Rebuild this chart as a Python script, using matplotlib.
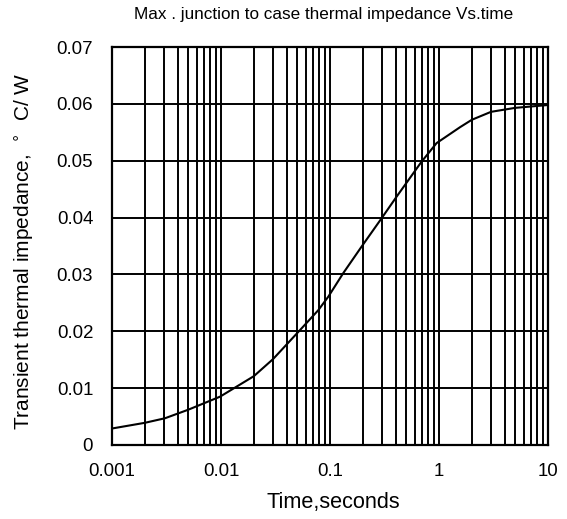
import matplotlib
matplotlib.use("Agg")
import matplotlib.pyplot as plt
from matplotlib.ticker import LogLocator, FixedLocator, FixedFormatter

# curve
time_s = [0.001, 0.002, 0.00306, 0.005, 0.0098, 0.02, 0.03, 0.041, 0.053,
          0.078, 0.0966, 0.132, 0.195, 0.298, 0.409, 0.69, 0.95, 1.56,
          2, 3, 5, 10]
zth = [0.0029, 0.0039, 0.0047, 0.0062, 0.0085, 0.0121, 0.0151, 0.0179, 0.0202,
       0.0237, 0.0261, 0.0302, 0.0349, 0.0399, 0.0437, 0.0498, 0.0531, 0.0559,
       0.0572, 0.0586, 0.0593, 0.0598]

x_ticks = [0.001, 0.01, 0.1, 1, 10]
x_labels = ["0.001", "0.01", "0.1", "1", "10"]
y_ticks = [0, 0.01, 0.02, 0.03, 0.04, 0.05, 0.06, 0.07]
y_labels = ["0", "0.01", "0.02", "0.03", "0.04", "0.05", "0.06", "0.07"]

plt.rcParams["font.family"] = ["Liberation Sans", "DejaVu Sans"]

fig = plt.figure(figsize=(5.67, 5.19), dpi=100)
ax = fig.add_axes([0.1975, 0.1426, 0.769, 0.7668])

ax.plot(time_s, zth, color="black", lw=1.5)
ax.set_xscale("log")
ax.set_xlim(0.001, 10)
ax.set_ylim(0, 0.07)

ax.xaxis.set_major_locator(FixedLocator(x_ticks))
ax.xaxis.set_major_formatter(FixedFormatter(x_labels))
ax.xaxis.set_minor_locator(LogLocator(base=10, subs=range(2, 10)))
ax.xaxis.set_minor_formatter(FixedFormatter([]))
ax.yaxis.set_major_locator(FixedLocator(y_ticks))
ax.yaxis.set_major_formatter(FixedFormatter(y_labels))

ax.grid(True, which="both", axis="x", color="black", lw=1.4)
ax.grid(True, which="major", axis="y", color="black", lw=1.4)
ax.tick_params(which="both", length=0, labelsize=13.4)
ax.tick_params(axis="y", pad=13.5)
ax.tick_params(axis="x", pad=13)
for s in ax.spines.values():
    s.set_linewidth(1.6)

ax.set_xlabel("Time,seconds", fontsize=15.6)
ax.xaxis.set_label_coords(0.507, -0.118)
ax.set_ylabel("Transient thermal impedance,  $^{\\circ}$  C/ W", fontsize=15)
ax.yaxis.set_label_coords(-0.175, 0.487)
fig.text(0.571, 0.972, "Max . junction to case thermal impedance Vs.time",
         ha="center", va="center", fontsize=12.3)

fig.savefig("out.png", dpi=100)
